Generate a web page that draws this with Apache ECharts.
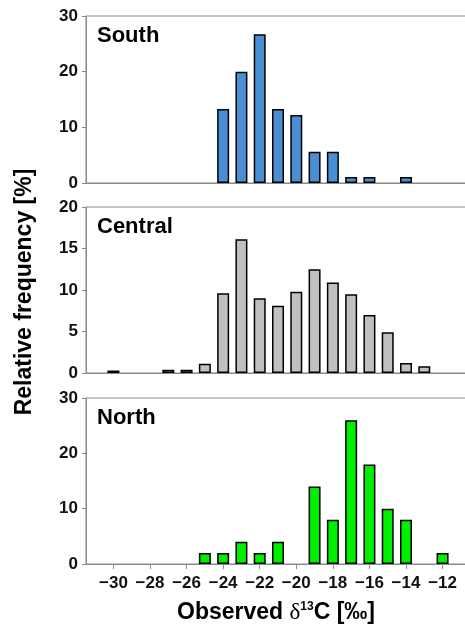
<!DOCTYPE html>
<html><head><meta charset="utf-8">
<script src="https://cdn.jsdelivr.net/npm/echarts@6/dist/echarts.min.js"></script>
<style>html,body{margin:0;padding:0;background:#fff;overflow:hidden;width:465px;height:632px}#c{width:490px;height:632px}</style>
</head><body><div id="c"></div>
<script>
// Bin centres (‰), one bin per integer
const categories = [-31,-30,-29,-28,-27,-26,-25,-24,-23,-22,-21,-20,-19,-18,-17,-16,-15,-14,-13,-12,-11];
// Relative frequency [%] per bin
const southValues   = [null,null,null,null,null,null,null,13.3,20.0,26.7,13.3,12.2,5.6,5.6,1.1,1.1,null,1.1,null,null,null];
const centralValues = [null,0.3,null,null,0.4,0.4,1.1,9.6,16.1,9.0,8.1,9.8,12.5,10.9,9.5,7.0,4.9,1.2,0.8,null,null];
const northValues   = [null,null,null,null,null,null,2,2,4,2,4,null,14,8,26,18,10,8,null,2,null];
const panelNames = ['South','Central','North'];
const panelMax = [30,20,30];
const panelInterval = [10,5,10];
const panelColors = ['#4a8fd4','#c0c0c0','#00ee00'];
const xTickLabels = [-30,-28,-26,-24,-22,-20,-18,-16,-14,-12];

const chart = echarts.init(document.getElementById('c'));
const tops = [16,207,398];
const H = [167,166,166];
const series = [southValues, centralValues, northValues];
const minus = v => String(v).replace('-', '\u2212');
const showIdx = (i) => xTickLabels.indexOf(categories[i]) >= 0;

const option = {
  animation: false,
  grid: tops.map((t,i)=>({left:86, top:t, height:H[i], width:384, show:true, borderColor:'#8a8a8a', borderWidth:1, containLabel:false})),
  xAxis: tops.map((t,i)=>({
    type:'category', gridIndex:i, data:categories, boundaryGap:true,
    axisLine:{show:true, lineStyle:{color:'#8a8a8a', width:1}},
    axisTick:{show:i===2, alignWithLabel:true, interval:showIdx, length:5, lineStyle:{color:'#8a8a8a'}},
    axisLabel:{show:i===2, interval:showIdx, formatter:minus, color:'#111', fontFamily:'Liberation Sans, Arial', fontWeight:'bold', fontSize:17, margin:11},
    splitLine:{show:false}
  })),
  yAxis: tops.map((t,i)=>({
    type:'value', gridIndex:i, min:0, max:panelMax[i], interval:panelInterval[i],
    axisLine:{show:true, lineStyle:{color:'#8a8a8a', width:1}},
    axisTick:{show:true, length:4, lineStyle:{color:'#8a8a8a'}},
    axisLabel:{color:'#111', fontFamily:'Liberation Sans, Arial', fontWeight:'bold', fontSize:17, margin:8},
    splitLine:{show:false}
  })),
  series: series.map((d,i)=>({
    type:'bar', xAxisIndex:i, yAxisIndex:i, data:d, barWidth:12,
    itemStyle:{color:panelColors[i], borderColor:'#000', borderWidth:1.5}
  })),
  graphic: [
    ...panelNames.map((n,i)=>({type:'text', left:97, top:tops[i]+9, style:{text:n, font:'bold 22px "Liberation Sans", Arial', fill:'#000'}})),
    {type:'text', x:25, y:292, rotation:Math.PI/2, style:{text:'Relative frequency [%]', font:'bold 23px "Liberation Sans", Arial', fill:'#000', align:'center', verticalAlign:'middle'}},
    {type:'text', x:276, y:613, style:{
      text:'{b|Observed }{d|δ}{s|13}{b|C [‰]}', align:'center', verticalAlign:'middle',
      rich:{
        b:{font:'bold 23px "Liberation Sans", Arial', fill:'#000'},
        d:{font:'23px "Liberation Serif", "Times New Roman"', fill:'#000'},
        s:{font:'bold 12px "Liberation Sans", Arial', fill:'#000', verticalAlign:'top', padding:[0,0,12,0]}
      }
    }}
  ]
};
chart.setOption(option);
</script>
</body></html>
